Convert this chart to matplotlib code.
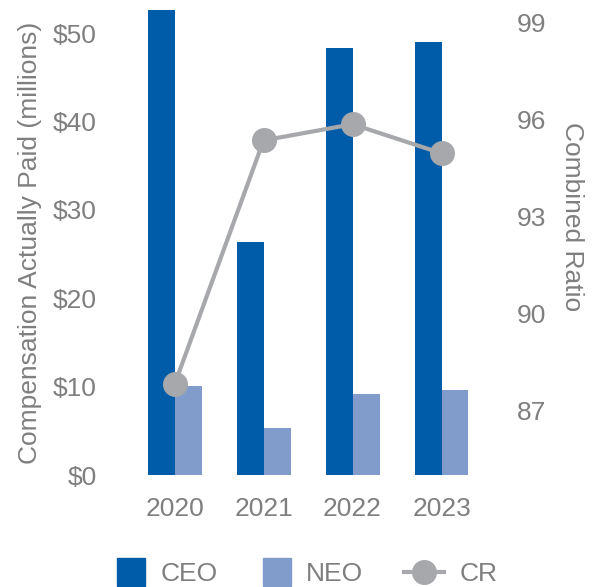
import matplotlib
matplotlib.use("Agg")
import matplotlib.pyplot as plt
from matplotlib.lines import Line2D
import numpy as np

plt.rcParams['font.family'] = ['Liberation Sans', 'DejaVu Sans']

years = ["2020", "2021", "2022", "2023"]
ceo_cap = [52.6, 26.4, 48.3, 49.0]
neo_cap = [10.1, 5.3, 9.2, 9.6]
combined_ratio = [87.8, 95.35, 95.85, 94.95]

ceo_color = "#005CA9"
neo_color = "#819BCB"
cr_color = "#A7A8AB"
text_color = "#7F7F7F"
fs = 19

fig = plt.figure(figsize=(5.97, 5.87), dpi=100)
ax = fig.add_axes([0.209, 0.1908, 0.62, 0.792])
ax2 = ax.twinx()

x = np.arange(len(years))
w = 0.303
ax.bar(x - w / 2, ceo_cap, w, color=ceo_color, zorder=1)
ax.bar(x + w / 2, neo_cap, w, color=neo_color, zorder=1)

ax2.plot(x, combined_ratio, color=cr_color, lw=3, marker="o", ms=17, zorder=3)

ax.set_xlim(-0.56, 3.6)
ax.set_ylim(0, 52.6)
ax2.set_ylim(85.0, 99.38)

ax.set_yticks([0, 10, 20, 30, 40, 50])
ax.set_yticklabels(["$0", "$10", "$20", "$30", "$40", "$50"])
ax2.set_yticks([87, 90, 93, 96, 99])
ax.set_xticks(x)
ax.set_xticklabels(years)

for a in (ax, ax2):
    for s in a.spines.values():
        s.set_visible(False)
    a.tick_params(length=0, labelsize=fs, labelcolor=text_color)
ax.tick_params(axis="y", pad=20)
ax.tick_params(axis="x", pad=16)
ax2.tick_params(axis="y", pad=16)

ax.set_ylabel("Compensation Actually Paid (millions)", fontsize=fs,
              color=text_color, labelpad=8)
ax2.set_ylabel("Combined Ratio", fontsize=fs, color=text_color,
               rotation=270, labelpad=27, y=0.555)

# one legend per entry so the square and line handles get their own widths
entries = [
    (Line2D([], [], ls="none", marker="s", ms=19.5, color=ceo_color), "CEO", 118, 1.02),
    (Line2D([], [], ls="none", marker="s", ms=19.5, color=neo_color), "NEO", 264, 1.02),
    (Line2D([], [], color=cr_color, lw=3, marker="o", ms=17), "CR", 404, 1.52),
]
for handle, label, px, hl in entries:
    leg = fig.legend([handle], [label], loc="center left",
                     bbox_to_anchor=(px / 597, 13 / 587), frameon=False,
                     fontsize=fs, handlelength=hl, handletextpad=0.58,
                     borderpad=0, borderaxespad=0)
    for t in leg.get_texts():
        t.set_color(text_color)

fig.savefig("out.png", dpi=100)
